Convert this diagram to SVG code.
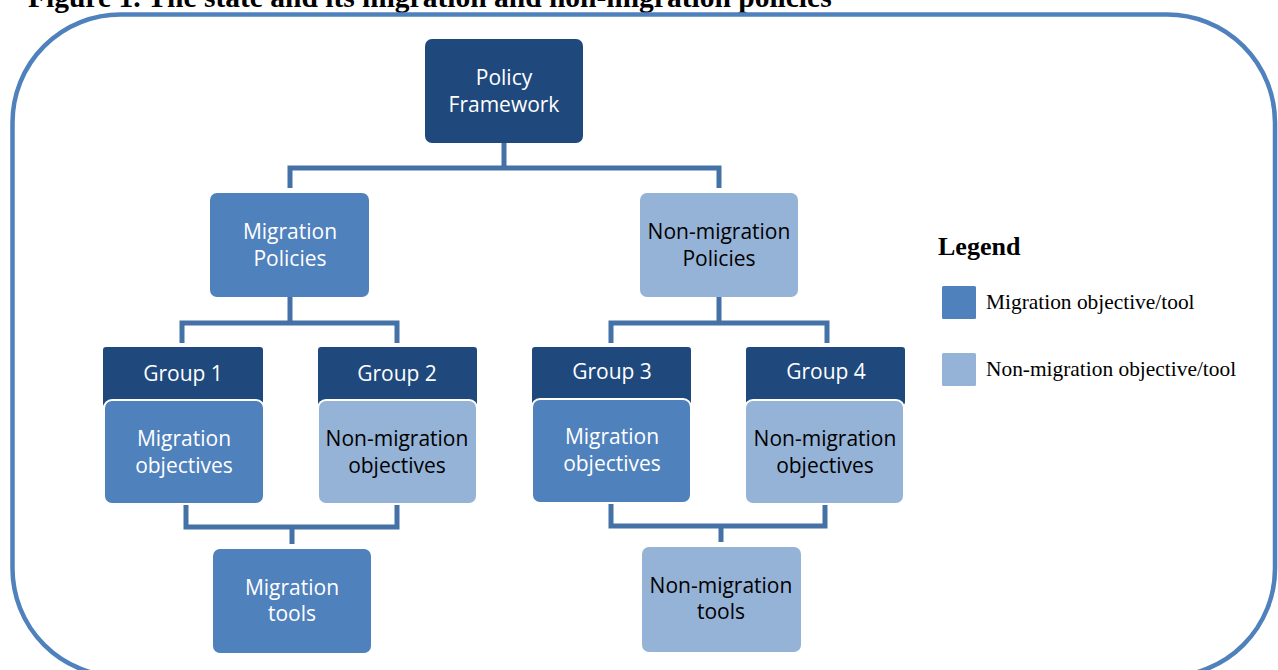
<svg xmlns="http://www.w3.org/2000/svg" width="1278" height="670" viewBox="0 0 1278 670">
<style>
.title{font-family:"Liberation Serif","Times New Roman",serif;font-weight:bold;font-size:29.5px;fill:#000}
.leg{font-family:"Liberation Serif","Times New Roman",serif;font-weight:bold;font-size:26px;fill:#000}
.legt{font-family:"Liberation Serif","Times New Roman",serif;font-size:21.4px;fill:#000}
.t{font-family:"Open Sans","Noto Sans","Liberation Sans",sans-serif;font-size:21px;text-anchor:middle}
.w{fill:#fff}
.k{fill:#000}
.dark{fill:#1F497D}
.mid{fill:#4F81BD}
.light{fill:#95B3D7}
.obj{stroke:#fff;stroke-width:2}
.conn{fill:none;stroke:#4472A6;stroke-width:5;stroke-linejoin:miter;stroke-linecap:butt}
</style>
<rect width="1278" height="670" fill="#fff"/>
<text class="title" x="28" y="7">Figure 1. The state and its migration and non-migration policies</text>
<rect x="12.5" y="14.5" width="1262.5" height="662" rx="108" ry="108" fill="none" stroke="#4F81BD" stroke-width="4.5"/>
<g id="connectors">
<path class="conn" d="M290,188 V168 H719 V188 M504,143 V168"/>
<path class="conn" d="M182,343 V323 H397 V343 M290,297 V323"/>
<path class="conn" d="M611,343 V323 H827 V343 M719,297 V323"/>
<path class="conn" d="M186,504 V527 H397 V504 M292,527 V544"/>
<path class="conn" d="M611,503 V526 H825 V504 M721,526 V542"/>
</g>
<g id="policy-framework">
<rect class="dark" x="425" y="39" width="158" height="104" rx="7"/>
<text class="t w" x="504" y="85">Policy</text>
<text class="t w" x="504" y="112">Framework</text>
</g>
<g id="migration-policies">
<rect class="mid" x="210" y="193" width="159" height="104" rx="7"/>
<text class="t w" x="290" y="239">Migration</text>
<text class="t w" x="290" y="266">Policies</text>
</g>
<g id="non-migration-policies">
<rect class="light" x="640" y="193" width="158" height="104" rx="7"/>
<text class="t k" x="719" y="239">Non-migration</text>
<text class="t k" x="719" y="266">Policies</text>
</g>
<g id="group1">
<rect class="dark" x="103" y="347" width="160" height="60" rx="3"/>
<text class="t w" x="183" y="381">Group 1</text>
<rect class="mid obj" x="104" y="400" width="160" height="104" rx="8"/>
<text class="t w" x="184" y="446">Migration</text>
<text class="t w" x="184" y="473">objectives</text>
</g>
<g id="group2">
<rect class="dark" x="318" y="347" width="159" height="60" rx="3"/>
<text class="t w" x="397" y="381">Group 2</text>
<rect class="light obj" x="318" y="400" width="159" height="104" rx="8"/>
<text class="t k" x="397" y="446">Non-migration</text>
<text class="t k" x="397" y="473">objectives</text>
</g>
<g id="group3">
<rect class="dark" x="532" y="347" width="159" height="58" rx="3"/>
<text class="t w" x="612" y="379">Group 3</text>
<rect class="mid obj" x="532" y="399" width="159" height="104" rx="8"/>
<text class="t w" x="612" y="444">Migration</text>
<text class="t w" x="612" y="471">objectives</text>
</g>
<g id="group4">
<rect class="dark" x="746" y="347" width="159" height="58" rx="3"/>
<text class="t w" x="826" y="379">Group 4</text>
<rect class="light obj" x="745" y="400" width="159" height="104" rx="8"/>
<text class="t k" x="825" y="446">Non-migration</text>
<text class="t k" x="825" y="473">objectives</text>
</g>
<g id="migration-tools">
<rect class="mid" x="213" y="549" width="158" height="104" rx="7"/>
<text class="t w" x="292" y="595">Migration</text>
<text class="t w" x="292" y="621">tools</text>
</g>
<g id="non-migration-tools">
<rect class="light" x="642" y="547" width="159" height="105" rx="7"/>
<text class="t k" x="721" y="593">Non-migration</text>
<text class="t k" x="721" y="619">tools</text>
</g>
<g id="legend">
<text class="leg" x="938" y="255">Legend</text>
<rect class="mid" x="942" y="286" width="34" height="33" rx="1.5"/>
<text class="legt" x="986" y="309">Migration objective/tool</text>
<rect class="light" x="942" y="353" width="34" height="33" rx="1.5"/>
<text class="legt" x="986" y="376">Non-migration objective/tool</text>
</g>
</svg>
